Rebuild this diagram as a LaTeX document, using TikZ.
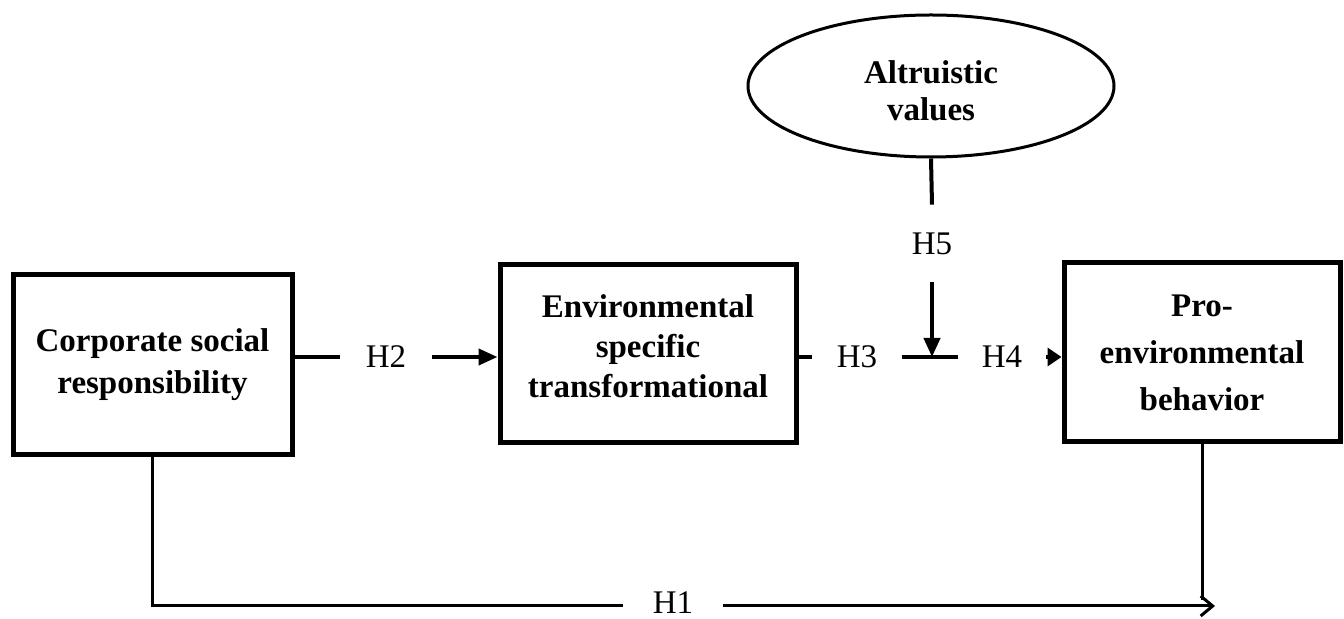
\documentclass[tikz,border=0pt]{standalone}
\usepackage{fontspec}
\setmainfont{Liberation Serif}
\usetikzlibrary{calc,shapes,arrows.meta}

\tikzset{
  varbox/.style={draw,line width=2.5pt,inner sep=0pt,align=center,
    font=\fontsize{16.5}{21}\selectfont\bfseries},
  vartext/.style={inner sep=0pt,align=center,
    font=\fontsize{16.5}{20}\selectfont\bfseries},
  hyp/.style={inner sep=0pt,font=\fontsize{16.5}{20}\selectfont},
  link/.style={line width=2pt},
  direct/.style={line width=1.5pt}
}

\begin{document}
\begin{tikzpicture}[x=0.5pt,y=-0.5pt]
  \useasboundingbox (0,0) rectangle (1344,619);

  %% Constructs
  \node[varbox,minimum width=139.5pt,minimum height=90pt] (CSR) at (152.5,365)
    {Corporate social\\responsibility};
  \node[varbox,minimum width=148pt,minimum height=89pt] (ESTL) at (648,354) {};
  \node[vartext] (ESTLtext) at (648,346)
    {Environmental\\specific\\transformational};
  \node[varbox,minimum width=138pt,minimum height=89.5pt,
    font=\fontsize{16.5}{23.5}\selectfont\bfseries] (PEB) at (1202,352.5)
    {Pro-\\environmental\\behavior};
  \node[varbox,ellipse,line width=1.5pt,minimum width=183pt,minimum height=71pt] (AV) at (931,86) {};
  \node[vartext,font=\fontsize{16.5}{18.5}\selectfont\bfseries] (AVtext) at (931,91)
    {Altruistic\\values};

  %% Hypothesis labels
  \node[hyp,minimum width=46pt] (H2) at (386,357) {H2};
  \node[hyp,minimum width=45pt] (H3) at (857,357) {H3};
  \node[hyp,minimum width=44pt] (H4) at (1002,357) {H4};
  \node[hyp,minimum height=38.5pt] (H5) at (932,243.5) {H5};
  \node[hyp,minimum width=49.5pt] (H1) at (673,603) {H1};
  \coordinate (MOD) at (932,357);
  \coordinate (H1end) at (1215,606);
  \coordinate (PEBfoot) at (1202,600);

  %% Mediation path
  \draw[link] (H2.west -| CSR.east) -- (H2.west);
  \draw[link,-{Triangle[length=9.5pt,width=8pt]}] (H2.east) -- (H2.east -| ESTL.west);
  \draw[link] (H3.west -| ESTL.east) -- (H3.west);
  \draw[link] (H3.east) -- (H4.west);
  \draw[link,-{Triangle[length=7pt,width=9pt]}] (H4.east) -- (H4.east -| PEB.west);

  %% Moderation
  \draw[link] (AV.south) -- (H5.north);
  \draw[link,-{Triangle[length=9.5pt,width=8pt]}] (H5.south) -- (MOD);

  %% Direct effect
  \draw[direct] (CSR.south) |- (H1.west |- H1end);
  \draw[direct,-{Straight Barb[length=6pt,width=10pt]}] (H1.east |- H1end) -- (H1end);
  \draw[direct] (PEB.south) -- (PEBfoot);
\end{tikzpicture}
\end{document}
